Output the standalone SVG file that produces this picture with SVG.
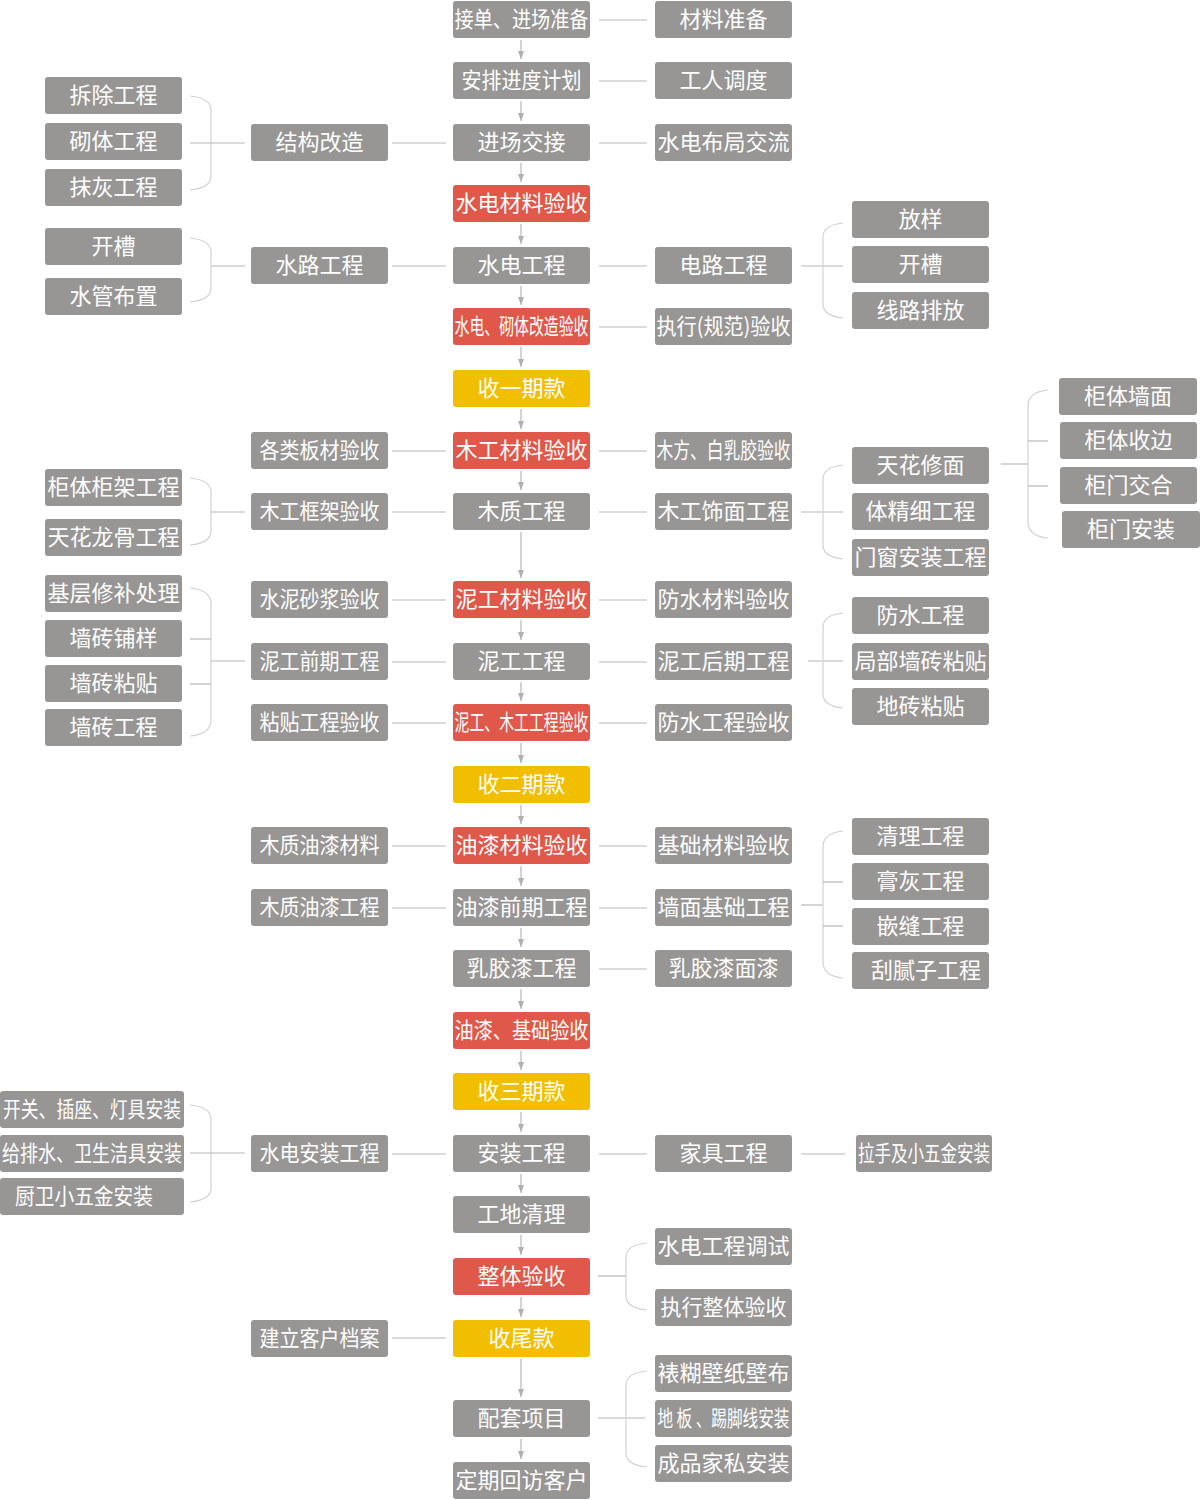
<svg xmlns="http://www.w3.org/2000/svg" width="1200" height="1500" viewBox="0 0 1200 1500">
<style>
rect.g{fill:#989695}
rect.r{fill:#e0584a}
rect.y{fill:#f2be00}
text{font-family:"Noto Sans CJK SC","Microsoft YaHei","Noto Sans",sans-serif;font-size:22px;fill:#ffffff;text-anchor:middle}
.c path,.c line{stroke:#b8b8b8;stroke-width:1.2;fill:none}
.c path.b{stroke:#d2d2d2}
</style>
<defs>
<marker id="ah" viewBox="0 0 8 6" refX="8" refY="3" markerWidth="8" markerHeight="6" markerUnits="userSpaceOnUse" orient="auto">
<path d="M0,0 L8,3 L0,6 z" fill="#b0b0b0"/>
</marker>
</defs>
<rect width="1200" height="1500" fill="#ffffff"/>
<g class="c" id="connectors">
<!-- vertical arrows -->
<path d="M521 40V59" marker-end="url(#ah)"/>
<path d="M521 101V121" marker-end="url(#ah)"/>
<path d="M521 163V182" marker-end="url(#ah)"/>
<path d="M521 224V244" marker-end="url(#ah)"/>
<path d="M521 286V305" marker-end="url(#ah)"/>
<path d="M521 347V367" marker-end="url(#ah)"/>
<path d="M521 409V429" marker-end="url(#ah)"/>
<path d="M521 471V490" marker-end="url(#ah)"/>
<path d="M521 532V578" marker-end="url(#ah)"/>
<path d="M521 620V640" marker-end="url(#ah)"/>
<path d="M521 682V701" marker-end="url(#ah)"/>
<path d="M521 743V763" marker-end="url(#ah)"/>
<path d="M521 805V824" marker-end="url(#ah)"/>
<path d="M521 866V886" marker-end="url(#ah)"/>
<path d="M521 928V947" marker-end="url(#ah)"/>
<path d="M521 989V1009" marker-end="url(#ah)"/>
<path d="M521 1051V1070" marker-end="url(#ah)"/>
<path d="M521 1112V1132" marker-end="url(#ah)"/>
<path d="M521 1174V1193" marker-end="url(#ah)"/>
<path d="M521 1235V1255" marker-end="url(#ah)"/>
<path d="M521 1297V1317" marker-end="url(#ah)"/>
<path d="M521 1359V1397" marker-end="url(#ah)"/>
<path d="M521 1439V1459" marker-end="url(#ah)"/>
<!-- center to right -->
<line x1="599" y1="20" x2="647" y2="20"/>
<line x1="599" y1="81" x2="647" y2="81"/>
<line x1="599" y1="143" x2="647" y2="143"/>
<line x1="599" y1="266" x2="647" y2="266"/>
<line x1="599" y1="327" x2="647" y2="327"/>
<line x1="599" y1="451" x2="647" y2="451"/>
<line x1="599" y1="512" x2="647" y2="512"/>
<line x1="599" y1="600" x2="647" y2="600"/>
<line x1="599" y1="662" x2="647" y2="662"/>
<line x1="599" y1="723" x2="647" y2="723"/>
<line x1="599" y1="846" x2="647" y2="846"/>
<line x1="599" y1="908" x2="647" y2="908"/>
<line x1="599" y1="969" x2="647" y2="969"/>
<line x1="599" y1="1154" x2="647" y2="1154"/>
<!-- left-mid to center -->
<line x1="392" y1="143" x2="446" y2="143"/>
<line x1="392" y1="266" x2="446" y2="266"/>
<line x1="392" y1="451" x2="446" y2="451"/>
<line x1="392" y1="512" x2="446" y2="512"/>
<line x1="392" y1="600" x2="446" y2="600"/>
<line x1="392" y1="662" x2="446" y2="662"/>
<line x1="392" y1="723" x2="446" y2="723"/>
<line x1="392" y1="846" x2="446" y2="846"/>
<line x1="392" y1="908" x2="446" y2="908"/>
<line x1="392" y1="1154" x2="446" y2="1154"/>
<line x1="392" y1="1338" x2="446" y2="1338"/>
<!-- left brackets -->
<path class="b" d="M190 96Q211 98 211 110V176Q211 188 190 190"/>
<line x1="190" y1="143" x2="245" y2="143"/>
<path class="b" d="M190 238Q211 240 211 252V288Q211 300 190 302"/>
<line x1="211" y1="266" x2="245" y2="266"/>
<path class="b" d="M190 478Q211 480 211 492V531Q211 543 190 545"/>
<line x1="211" y1="512" x2="245" y2="512"/>
<path class="b" d="M190 588Q211 590 211 604V720Q211 734 190 736"/>
<line x1="190" y1="639" x2="211" y2="639"/>
<line x1="190" y1="684" x2="211" y2="684"/>
<line x1="211" y1="661" x2="245" y2="661"/>
<path class="b" d="M190 1105Q211 1107 211 1119V1188Q211 1200 190 1202"/>
<line x1="190" y1="1153" x2="245" y2="1153"/>
<!-- right brackets -->
<line x1="801" y1="266" x2="843" y2="266"/>
<path class="b" d="M843 223Q823 225 823 237V304Q823 316 843 318"/>
<line x1="801" y1="512" x2="843" y2="512"/>
<path class="b" d="M843 465Q823 467 823 479V545Q823 557 843 559"/>
<line x1="1001" y1="464" x2="1028" y2="464"/>
<path class="b" d="M1048 390Q1028 392 1028 406V522Q1028 536 1048 538"/>
<line x1="1028" y1="441" x2="1048" y2="441"/>
<line x1="1028" y1="486" x2="1048" y2="486"/>
<line x1="808" y1="661" x2="843" y2="661"/>
<path class="b" d="M843 613Q823 615 823 627V694Q823 706 843 708"/>
<line x1="801" y1="905" x2="823" y2="905"/>
<path class="b" d="M843 831Q823 833 823 847V962Q823 976 843 978"/>
<line x1="823" y1="882" x2="843" y2="882"/>
<line x1="823" y1="926" x2="843" y2="926"/>
<line x1="801" y1="1154" x2="845" y2="1154"/>
<line x1="598" y1="1276" x2="626" y2="1276"/>
<path class="b" d="M647 1243Q626 1245 626 1257V1296Q626 1308 647 1310"/>
<line x1="598" y1="1418" x2="645" y2="1418"/>
<path class="b" d="M647 1371Q626 1373 626 1385V1453Q626 1465 647 1467"/>
</g>
<!-- center column -->
<g id="c01"><rect class="g" x="453" y="1" width="137" height="37" rx="3"/><text x="521.5" y="27" textLength="134" lengthAdjust="spacingAndGlyphs">接单、进场准备</text></g>
<g id="c02"><rect class="g" x="453" y="62" width="137" height="37" rx="3"/><text x="521.5" y="88" textLength="120" lengthAdjust="spacingAndGlyphs">安排进度计划</text></g>
<g id="c03"><rect class="g" x="453" y="124" width="137" height="37" rx="3"/><text x="521.5" y="150">进场交接</text></g>
<g id="c04"><rect class="r" x="453" y="185" width="137" height="37" rx="3"/><text x="521.5" y="211">水电材料验收</text></g>
<g id="c05"><rect class="g" x="453" y="247" width="137" height="37" rx="3"/><text x="521.5" y="273">水电工程</text></g>
<g id="c06"><rect class="r" x="453" y="308" width="137" height="37" rx="3"/><text x="521.5" y="334" textLength="134" lengthAdjust="spacingAndGlyphs">水电、砌体改造验收</text></g>
<g id="c07"><rect class="y" x="453" y="370" width="137" height="37" rx="3"/><text x="521.5" y="396">收一期款</text></g>
<g id="c08"><rect class="r" x="453" y="432" width="137" height="37" rx="3"/><text x="521.5" y="458">木工材料验收</text></g>
<g id="c09"><rect class="g" x="453" y="493" width="137" height="37" rx="3"/><text x="521.5" y="519">木质工程</text></g>
<g id="c10"><rect class="r" x="453" y="581" width="137" height="37" rx="3"/><text x="521.5" y="607">泥工材料验收</text></g>
<g id="c11"><rect class="g" x="453" y="643" width="137" height="37" rx="3"/><text x="521.5" y="669">泥工工程</text></g>
<g id="c12"><rect class="r" x="453" y="704" width="137" height="37" rx="3"/><text x="521.5" y="730" textLength="134" lengthAdjust="spacingAndGlyphs">泥工、木工工程验收</text></g>
<g id="c13"><rect class="y" x="453" y="766" width="137" height="37" rx="3"/><text x="521.5" y="792">收二期款</text></g>
<g id="c14"><rect class="r" x="453" y="827" width="137" height="37" rx="3"/><text x="521.5" y="853">油漆材料验收</text></g>
<g id="c15"><rect class="g" x="453" y="889" width="137" height="37" rx="3"/><text x="521.5" y="915">油漆前期工程</text></g>
<g id="c16"><rect class="g" x="453" y="950" width="137" height="37" rx="3"/><text x="521.5" y="976">乳胶漆工程</text></g>
<g id="c17"><rect class="r" x="453" y="1012" width="137" height="37" rx="3"/><text x="521.5" y="1038" textLength="134" lengthAdjust="spacingAndGlyphs">油漆、基础验收</text></g>
<g id="c18"><rect class="y" x="453" y="1073" width="137" height="37" rx="3"/><text x="521.5" y="1099">收三期款</text></g>
<g id="c19"><rect class="g" x="453" y="1135" width="137" height="37" rx="3"/><text x="521.5" y="1161">安装工程</text></g>
<g id="c20"><rect class="g" x="453" y="1196" width="137" height="37" rx="3"/><text x="521.5" y="1222">工地清理</text></g>
<g id="c21"><rect class="r" x="453" y="1258" width="137" height="37" rx="3"/><text x="521.5" y="1284">整体验收</text></g>
<g id="c22"><rect class="y" x="453" y="1320" width="137" height="37" rx="3"/><text x="521.5" y="1346">收尾款</text></g>
<g id="c23"><rect class="g" x="453" y="1400" width="137" height="37" rx="3"/><text x="521.5" y="1426">配套项目</text></g>
<g id="c24"><rect class="g" x="453" y="1462" width="137" height="37" rx="3"/><text x="521.5" y="1488">定期回访客户</text></g>
<!-- right column -->
<g id="r01"><rect class="g" x="655" y="1" width="137" height="37" rx="3"/><text x="723.5" y="27">材料准备</text></g>
<g id="r02"><rect class="g" x="655" y="62" width="137" height="37" rx="3"/><text x="723.5" y="88">工人调度</text></g>
<g id="r03"><rect class="g" x="655" y="124" width="137" height="37" rx="3"/><text x="723.5" y="150">水电布局交流</text></g>
<g id="r04"><rect class="g" x="655" y="247" width="137" height="37" rx="3"/><text x="723.5" y="273">电路工程</text></g>
<g id="r05"><rect class="g" x="655" y="308" width="137" height="37" rx="3"/><text x="723.5" y="334" textLength="134" lengthAdjust="spacingAndGlyphs">执行(规范)验收</text></g>
<g id="r06"><rect class="g" x="655" y="432" width="137" height="37" rx="3"/><text x="723.5" y="458" textLength="134" lengthAdjust="spacingAndGlyphs">木方、白乳胶验收</text></g>
<g id="r07"><rect class="g" x="655" y="493" width="137" height="37" rx="3"/><text x="723.5" y="519">木工饰面工程</text></g>
<g id="r08"><rect class="g" x="655" y="581" width="137" height="37" rx="3"/><text x="723.5" y="607">防水材料验收</text></g>
<g id="r09"><rect class="g" x="655" y="643" width="137" height="37" rx="3"/><text x="723.5" y="669">泥工后期工程</text></g>
<g id="r10"><rect class="g" x="655" y="704" width="137" height="37" rx="3"/><text x="723.5" y="730">防水工程验收</text></g>
<g id="r11"><rect class="g" x="655" y="827" width="137" height="37" rx="3"/><text x="723.5" y="853">基础材料验收</text></g>
<g id="r12"><rect class="g" x="655" y="889" width="137" height="37" rx="3"/><text x="723.5" y="915">墙面基础工程</text></g>
<g id="r13"><rect class="g" x="655" y="950" width="137" height="37" rx="3"/><text x="723.5" y="976">乳胶漆面漆</text></g>
<g id="r14"><rect class="g" x="655" y="1135" width="137" height="37" rx="3"/><text x="723.5" y="1161">家具工程</text></g>
<g id="r15"><rect class="g" x="655" y="1228" width="137" height="37" rx="3"/><text x="723.5" y="1254">水电工程调试</text></g>
<g id="r16"><rect class="g" x="655" y="1289" width="137" height="37" rx="3"/><text x="723.5" y="1315" textLength="126" lengthAdjust="spacingAndGlyphs">执行整体验收</text></g>
<g id="r17"><rect class="g" x="655" y="1355" width="137" height="37" rx="3"/><text x="723.5" y="1381">裱糊壁纸壁布</text></g>
<g id="r18"><rect class="g" x="655" y="1400" width="137" height="37" rx="3"/><text x="723.5" y="1426" textLength="132" lengthAdjust="spacingAndGlyphs">地 板 、踢脚线安装</text></g>
<g id="r19"><rect class="g" x="655" y="1445" width="137" height="37" rx="3"/><text x="723.5" y="1471">成品家私安装</text></g>
<!-- left-mid column -->
<g id="l01"><rect class="g" x="251" y="124" width="137" height="37" rx="3"/><text x="319.5" y="150">结构改造</text></g>
<g id="l02"><rect class="g" x="251" y="247" width="137" height="37" rx="3"/><text x="319.5" y="273">水路工程</text></g>
<g id="l03"><rect class="g" x="251" y="432" width="137" height="37" rx="3"/><text x="319.5" y="458" textLength="120" lengthAdjust="spacingAndGlyphs">各类板材验收</text></g>
<g id="l04"><rect class="g" x="251" y="493" width="137" height="37" rx="3"/><text x="319.5" y="519" textLength="120" lengthAdjust="spacingAndGlyphs">木工框架验收</text></g>
<g id="l05"><rect class="g" x="251" y="581" width="137" height="37" rx="3"/><text x="319.5" y="607" textLength="120" lengthAdjust="spacingAndGlyphs">水泥砂浆验收</text></g>
<g id="l06"><rect class="g" x="251" y="643" width="137" height="37" rx="3"/><text x="319.5" y="669" textLength="120" lengthAdjust="spacingAndGlyphs">泥工前期工程</text></g>
<g id="l07"><rect class="g" x="251" y="704" width="137" height="37" rx="3"/><text x="319.5" y="730" textLength="120" lengthAdjust="spacingAndGlyphs">粘贴工程验收</text></g>
<g id="l08"><rect class="g" x="251" y="827" width="137" height="37" rx="3"/><text x="319.5" y="853" textLength="120" lengthAdjust="spacingAndGlyphs">木质油漆材料</text></g>
<g id="l09"><rect class="g" x="251" y="889" width="137" height="37" rx="3"/><text x="319.5" y="915" textLength="120" lengthAdjust="spacingAndGlyphs">木质油漆工程</text></g>
<g id="l10"><rect class="g" x="251" y="1135" width="137" height="37" rx="3"/><text x="319.5" y="1161" textLength="120" lengthAdjust="spacingAndGlyphs">水电安装工程</text></g>
<g id="l11"><rect class="g" x="251" y="1320" width="137" height="37" rx="3"/><text x="319.5" y="1346" textLength="120" lengthAdjust="spacingAndGlyphs">建立客户档案</text></g>
<!-- far-left column -->
<g id="f01"><rect class="g" x="45" y="77" width="137" height="37" rx="3"/><text x="113.5" y="103">拆除工程</text></g>
<g id="f02"><rect class="g" x="45" y="123" width="137" height="37" rx="3"/><text x="113.5" y="149">砌体工程</text></g>
<g id="f03"><rect class="g" x="45" y="169" width="137" height="37" rx="3"/><text x="113.5" y="195">抹灰工程</text></g>
<g id="f04"><rect class="g" x="45" y="228" width="137" height="37" rx="3"/><text x="113.5" y="254">开槽</text></g>
<g id="f05"><rect class="g" x="45" y="278" width="137" height="37" rx="3"/><text x="113.5" y="304">水管布置</text></g>
<g id="f06"><rect class="g" x="45" y="469" width="137" height="37" rx="3"/><text x="113.5" y="495">柜体柜架工程</text></g>
<g id="f07"><rect class="g" x="45" y="519" width="137" height="37" rx="3"/><text x="113.5" y="545">天花龙骨工程</text></g>
<g id="f08"><rect class="g" x="45" y="575" width="137" height="37" rx="3"/><text x="113.5" y="601">基层修补处理</text></g>
<g id="f09"><rect class="g" x="45" y="620" width="137" height="37" rx="3"/><text x="113.5" y="646">墙砖铺样</text></g>
<g id="f10"><rect class="g" x="45" y="665" width="137" height="37" rx="3"/><text x="113.5" y="691">墙砖粘贴</text></g>
<g id="f11"><rect class="g" x="45" y="709" width="137" height="37" rx="3"/><text x="113.5" y="735">墙砖工程</text></g>
<g id="f12"><rect class="g" x="0" y="1091" width="184" height="37" rx="3"/><text x="92" y="1117" textLength="178" lengthAdjust="spacingAndGlyphs">开关、插座、灯具安装</text></g>
<g id="f13"><rect class="g" x="0" y="1135" width="184" height="37" rx="3"/><text x="92" y="1161" textLength="180" lengthAdjust="spacingAndGlyphs">给排水、卫生洁具安装</text></g>
<g id="f14"><rect class="g" x="0" y="1178" width="184" height="37" rx="3"/><text x="84" y="1204" textLength="138" lengthAdjust="spacingAndGlyphs">厨卫小五金安装</text></g>
<!-- far-right column -->
<g id="g01"><rect class="g" x="852" y="201" width="137" height="37" rx="3"/><text x="920.5" y="227">放样</text></g>
<g id="g02"><rect class="g" x="852" y="246" width="137" height="37" rx="3"/><text x="920.5" y="272">开槽</text></g>
<g id="g03"><rect class="g" x="852" y="292" width="137" height="37" rx="3"/><text x="920.5" y="318">线路排放</text></g>
<g id="g04"><rect class="g" x="852" y="447" width="137" height="37" rx="3"/><text x="920.5" y="473">天花修面</text></g>
<g id="g05"><rect class="g" x="852" y="493" width="137" height="37" rx="3"/><text x="920.5" y="519">体精细工程</text></g>
<g id="g06"><rect class="g" x="852" y="539" width="137" height="37" rx="3"/><text x="920.5" y="565">门窗安装工程</text></g>
<g id="g07"><rect class="g" x="852" y="597" width="137" height="37" rx="3"/><text x="920.5" y="623">防水工程</text></g>
<g id="g08"><rect class="g" x="852" y="643" width="137" height="37" rx="3"/><text x="920.5" y="669">局部墙砖粘贴</text></g>
<g id="g09"><rect class="g" x="852" y="688" width="137" height="37" rx="3"/><text x="920.5" y="714">地砖粘贴</text></g>
<g id="g10"><rect class="g" x="852" y="818" width="137" height="37" rx="3"/><text x="920.5" y="844">清理工程</text></g>
<g id="g11"><rect class="g" x="852" y="863" width="137" height="37" rx="3"/><text x="920.5" y="889">膏灰工程</text></g>
<g id="g12"><rect class="g" x="852" y="908" width="137" height="37" rx="3"/><text x="920.5" y="934">嵌缝工程</text></g>
<g id="g13"><rect class="g" x="852" y="952" width="137" height="37" rx="3"/><text x="926" y="978">刮腻子工程</text></g>
<g id="g14"><rect class="g" x="856" y="1135" width="136" height="37" rx="3"/><text x="924" y="1161" textLength="132" lengthAdjust="spacingAndGlyphs">拉手及小五金安装</text></g>
<!-- far-far-right column -->
<g id="h01"><rect class="g" x="1059" y="378" width="138" height="37" rx="3"/><text x="1128" y="404">柜体墙面</text></g>
<g id="h02"><rect class="g" x="1060" y="422" width="137" height="37" rx="3"/><text x="1128.5" y="448">柜体收边</text></g>
<g id="h03"><rect class="g" x="1060" y="467" width="137" height="37" rx="3"/><text x="1128.5" y="493">柜门交合</text></g>
<g id="h04"><rect class="g" x="1062" y="511" width="138" height="37" rx="3"/><text x="1131" y="537">柜门安装</text></g>
</svg>
